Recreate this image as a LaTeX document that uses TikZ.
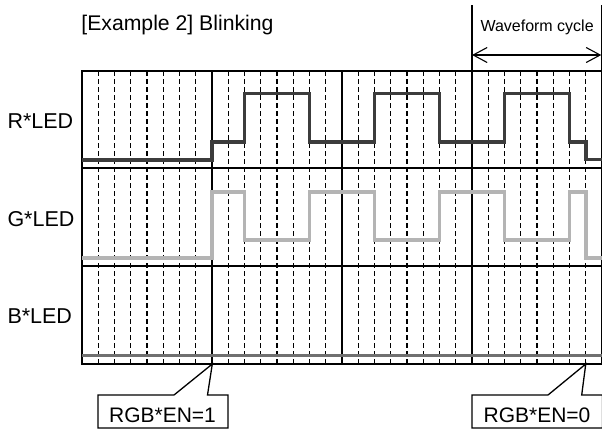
\documentclass[tikz,border=0pt]{standalone}
\usepackage{fontspec}
\setmainfont{Liberation Sans}
\usetikzlibrary{arrows.meta}
\definecolor{rcol}{HTML}{3C3C3C}
\definecolor{gcol}{HTML}{B4B4B4}
\definecolor{bcol}{HTML}{707070}
\tikzset{
  gridsolid/.style={line width=1.4pt,black},
  griddash/.style={line width=1.1pt,black,dash pattern=on 5pt off 3pt},
  wave/.style={line width=3.8pt,line join=miter},
  lbl/.style={inner sep=0pt,anchor=base west,font=\fontsize{21.5}{25}\selectfont},
  calltext/.style={inner sep=0pt,anchor=base,font=\fontsize{21}{24}\selectfont},
  callbox/.style={line width=1.3pt,fill=white,line join=miter},
  barb/.tip={Straight Barb[length=14pt,width=15pt,line width=1.1pt]}
}
\begin{document}
\begin{tikzpicture}[x=1pt,y=-1pt]
\useasboundingbox (0,0) rectangle (602,432);
% dashed grid lines
\foreach \k in {1,...,31}{
  \pgfmathtruncatemacro{\m}{mod(\k,8)}
  \ifnum\m=0\relax
    \draw[gridsolid] ({82+16.25*\k},71) -- ({82+16.25*\k},364);
  \else
    \draw[griddash] ({82+16.25*\k},71) -- ({82+16.25*\k},364);
  \fi
}
\draw[gridsolid] (82,70) -- (82,365);
\draw[gridsolid] (601.3,5) -- (601.3,365);
% horizontal row lines
\draw[line width=2pt] (81.3,71) -- (602,71);
\draw[gridsolid] (82,168) -- (602,168);
\draw[gridsolid] (82,266) -- (602,266);
\draw[gridsolid] (82,364) -- (602,364);
% waveform cycle marker
\draw[gridsolid] (472,5) -- (472,71);
\coordinate (wcA) at (472,55);
\coordinate (wcB) at (601.3,55);
\draw[line width=1.1pt,{barb}-{barb}] (wcA) -- (wcB);
\node[inner sep=0pt,anchor=base west,font=\fontsize{16}{19}\selectfont] (wctext) at (480.3,31) {Waveform cycle};
% title
\node[inner sep=0pt,anchor=base west,font=\fontsize{21.2}{25}\selectfont] (title) at (81.2,30) {[Example 2] Blinking};
% row labels
\node[lbl] (rlab) at (7.3,128.3) {R*LED};
\node[lbl] (glab) at (7.3,226.6) {G*LED};
\node[lbl] (blab) at (7.3,323) {B*LED};
% R waveform
\draw[wave,rcol] (82,160) -- (212.3,160) -- (212.3,142.3) -- (244.5,142.3) -- (244.5,93.5) -- (309.5,93.5) -- (309.5,142.3) -- (374.5,142.3) -- (374.5,93.5) -- (439.5,93.5) -- (439.5,142.3) -- (504.5,142.3) -- (504.5,93.5) -- (569.5,93.5) -- (569.5,142.3) -- (585.75,142.3) -- (585.75,159.5) -- (602,159.5);
% G waveform
\draw[wave,gcol] (82,257.6) -- (212.3,257.6) -- (212.3,192.2) -- (244.5,192.2) -- (244.5,240) -- (309.5,240) -- (309.5,192.2) -- (374.5,192.2) -- (374.5,240) -- (439.5,240) -- (439.5,192.2) -- (504.5,192.2) -- (504.5,240) -- (569.5,240) -- (569.5,192.2) -- (585.75,192.2) -- (585.75,257.6) -- (602,257.6);
% B waveform
\draw[wave,bcol] (82,355.5) -- (602,355.5);
% callouts
\draw[callbox] (98,395) -- (174,395) -- (212.3,364) -- (207.5,395) -- (228,395) -- (228,428) -- (98,428) -- cycle;
\node[calltext] (en1) at (162.5,422.3) {RGB*EN=1};
\draw[callbox] (472,395) -- (548,395) -- (585.75,364) -- (581.7,395) -- (602.5,395) -- (602.5,428) -- (472,428) -- cycle;
\node[calltext] (en0) at (537,422.3) {RGB*EN=0};
\end{tikzpicture}
\end{document}
